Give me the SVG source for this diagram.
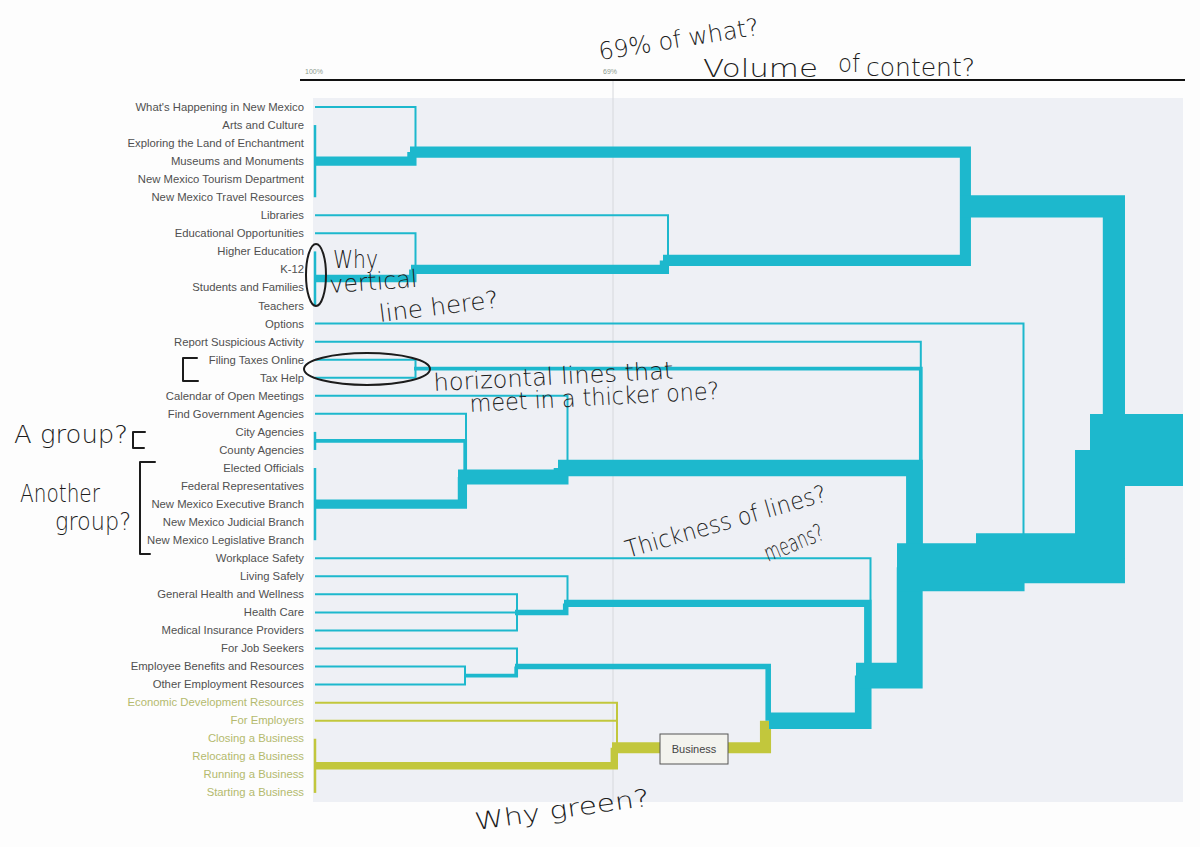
<svg xmlns="http://www.w3.org/2000/svg" width="1200" height="847" viewBox="0 0 1200 847">
<style>
.lbl{font-family:"Liberation Sans",Arial,sans-serif;font-size:11.3px;fill:#505050;text-anchor:end}
.glbl{font-family:"Liberation Sans",Arial,sans-serif;font-size:11.3px;fill:#b4ba6e;text-anchor:end}
.ax{font-family:"Liberation Sans",Arial,sans-serif;font-size:7px;fill:#8d9b8d}
.t{fill:none;stroke:#1db8cd;stroke-linejoin:miter}
.g{fill:none;stroke:#c2c73c;stroke-linejoin:miter}
.hw{font-family:"DejaVu Sans","Liberation Sans",sans-serif;font-size:24px;fill:#1c1c1c;font-weight:300}
.ink{fill:none;stroke:#1c1c1c;stroke-width:2;stroke-linecap:round;stroke-linejoin:round}
</style>
<rect x="0" y="0" width="1200" height="847" fill="#fdfdfd"/>
<g id="panel">
<rect x="313" y="98" width="870" height="704" fill="#eef0f5"/>
<line x1="613" y1="80" x2="613" y2="802" stroke="#d6d8dc" stroke-width="1"/>
<line x1="300" y1="80" x2="1185" y2="80" stroke="#111" stroke-width="2"/>
<text class="ax" x="305" y="74">100%</text>
<text class="ax" x="603" y="74">69%</text>
</g>
<g id="labels">
<text class="lbl" x="304" y="111">What's Happening in New Mexico</text>
<text class="lbl" x="304" y="129">Arts and Culture</text>
<text class="lbl" x="304" y="147">Exploring the Land of Enchantment</text>
<text class="lbl" x="304" y="165">Museums and Monuments</text>
<text class="lbl" x="304" y="183">New Mexico Tourism Department</text>
<text class="lbl" x="304" y="201">New Mexico Travel Resources</text>
<text class="lbl" x="304" y="219">Libraries</text>
<text class="lbl" x="304" y="237">Educational Opportunities</text>
<text class="lbl" x="304" y="255">Higher Education</text>
<text class="lbl" x="304" y="273">K-12</text>
<text class="lbl" x="304" y="291">Students and Families</text>
<text class="lbl" x="304" y="310">Teachers</text>
<text class="lbl" x="304" y="328">Options</text>
<text class="lbl" x="304" y="346">Report Suspicious Activity</text>
<text class="lbl" x="304" y="364">Filing Taxes Online</text>
<text class="lbl" x="304" y="382">Tax Help</text>
<text class="lbl" x="304" y="400">Calendar of Open Meetings</text>
<text class="lbl" x="304" y="418">Find Government Agencies</text>
<text class="lbl" x="304" y="436">City Agencies</text>
<text class="lbl" x="304" y="454">County Agencies</text>
<text class="lbl" x="304" y="472">Elected Officials</text>
<text class="lbl" x="304" y="490">Federal Representatives</text>
<text class="lbl" x="304" y="508">New Mexico Executive Branch</text>
<text class="lbl" x="304" y="526">New Mexico Judicial Branch</text>
<text class="lbl" x="304" y="544">New Mexico Legislative Branch</text>
<text class="lbl" x="304" y="562">Workplace Safety</text>
<text class="lbl" x="304" y="580">Living Safely</text>
<text class="lbl" x="304" y="598">General Health and Wellness</text>
<text class="lbl" x="304" y="616">Health Care</text>
<text class="lbl" x="304" y="634">Medical Insurance Providers</text>
<text class="lbl" x="304" y="652">For Job Seekers</text>
<text class="lbl" x="304" y="670">Employee Benefits and Resources</text>
<text class="lbl" x="304" y="688">Other Employment Resources</text>
<text class="glbl" x="304" y="706">Economic Development Resources</text>
<text class="glbl" x="304" y="724">For Employers</text>
<text class="glbl" x="304" y="742">Closing a Business</text>
<text class="glbl" x="304" y="760">Relocating a Business</text>
<text class="glbl" x="304" y="778">Running a Business</text>
<text class="glbl" x="304" y="796">Starting a Business</text>
</g>
<g id="connectors">
<path class="g" stroke-width="2.5" d="M315,738.75 V792.9"/>
<path class="g" stroke-width="2" d="M315,702.65 H617 V747.8"/>
<path class="g" stroke-width="2" d="M315,720.7 H617 V747.8"/>
<path class="g" stroke-width="7.4" d="M315,765.8 H614.3 V747.8"/>
<path class="g" stroke-width="11.1" d="M612,747.8 H765.5 V720.7"/>
<path class="t" stroke-width="2.5" d="M315,125.05 V197.25"/>
<path class="t" stroke-width="2.5" d="M315,251.4 V305.55"/>
<path class="t" stroke-width="2.5" d="M315,431.9 V449.95"/>
<path class="t" stroke-width="2.5" d="M315,468 V540.2"/>
<path class="t" stroke-width="2" d="M315,107 H415.5 V152.1"/>
<path class="t" stroke-width="2" d="M315,215.3 H668 V260.4"/>
<path class="t" stroke-width="2" d="M315,233.35 H415.5 V269.45"/>
<path class="t" stroke-width="2" d="M315,323.6 H1023.5 V558.25"/>
<path class="t" stroke-width="2" d="M315,341.65 H920.8 V567.3"/>
<path class="t" stroke-width="2" d="M315,359.7 H415.5 V368.7"/>
<path class="t" stroke-width="2" d="M315,377.75 H415.5 V368.7"/>
<path class="t" stroke-width="2" d="M315,395.8 H567.5 V468"/>
<path class="t" stroke-width="2" d="M315,413.85 H466 V477"/>
<path class="t" stroke-width="2" d="M315,558.25 H870.5 V675.6"/>
<path class="t" stroke-width="2" d="M315,576.3 H567.5 V603.4"/>
<path class="t" stroke-width="2" d="M315,594.35 H517 V612.4"/>
<path class="t" stroke-width="2" d="M315,612.4 H517 V612.4"/>
<path class="t" stroke-width="2" d="M315,630.45 H517 V612.4"/>
<path class="t" stroke-width="2" d="M315,648.5 H517 V666.55"/>
<path class="t" stroke-width="2" d="M315,666.55 H465 V675.6"/>
<path class="t" stroke-width="2" d="M315,684.6 H465 V675.6"/>
<path class="t" stroke-width="9.25" d="M315,161.15 H411.9 V152.1"/>
<path class="t" stroke-width="11.1" d="M410,152.1 H965.4 V206.3"/>
<path class="t" stroke-width="7.4" d="M315,278.5 H412.8 V269.45"/>
<path class="t" stroke-width="9.25" d="M411,269.45 H664.4 V260.4"/>
<path class="t" stroke-width="11.1" d="M663,260.4 H965.4 V206.3"/>
<path class="t" stroke-width="22.2" d="M960,206.3 H1113.9 V449.95"/>
<path class="t" stroke-width="3.7" d="M414,368.7 H920.8 V567.3"/>
<path class="t" stroke-width="3.7" d="M315,440.9 H465.2 V477"/>
<path class="t" stroke-width="9.25" d="M315,504.1 H462.4 V477"/>
<path class="t" stroke-width="14.8" d="M458,477 H561.1 V468"/>
<path class="t" stroke-width="16.65" d="M558,468 H914.4 V567.3"/>
<path class="t" stroke-width="5.55" d="M515,612.4 H565.7 V603.4"/>
<path class="t" stroke-width="7.4" d="M564,603.4 H867.8 V675.6"/>
<path class="t" stroke-width="3.7" d="M464,675.6 H516.2 V666.55"/>
<path class="t" stroke-width="5.55" d="M515,666.55 H768.2 V720.7"/>
<path class="t" stroke-width="16.65" d="M769,720.7 H863.2 V675.6"/>
<path class="t" stroke-width="25.9" d="M856,675.6 H909.7 V567.3"/>
<path class="t" stroke-width="48.1" d="M897,567.3 H1000.5 V558.25"/>
<path class="t" stroke-width="49.95" d="M976,558.25 H1100 V449.95"/>
<path class="t" stroke-width="72.15" d="M1090,449.95 H1183"/>
</g>
<g id="business">
<rect x="660" y="734" width="68" height="30" fill="#f3f3ee" stroke="#555" stroke-width="1"/>
<text x="694" y="753" font-family="Liberation Sans, Arial, sans-serif" font-size="11" fill="#444" text-anchor="middle">Business</text>
</g>
<g id="annotations">
<text class="hw" x="600" y="60" textLength="162" lengthAdjust="spacingAndGlyphs" transform="rotate(-9 600 60)">69% of what?</text>
<text class="hw" x="703" y="77" textLength="115" lengthAdjust="spacingAndGlyphs">Volume</text>
<text class="hw" x="838" y="72" textLength="22" lengthAdjust="spacingAndGlyphs">of</text>
<text class="hw" x="866" y="76" textLength="109" lengthAdjust="spacingAndGlyphs">content?</text>
<ellipse class="ink" cx="316" cy="275" rx="10" ry="31"/>
<text class="hw" x="333" y="268" textLength="45" lengthAdjust="spacingAndGlyphs">Why</text>
<text class="hw" x="330" y="293" textLength="88" lengthAdjust="spacingAndGlyphs" transform="rotate(-4 330 293)">vertical</text>
<text class="hw" x="380" y="322" textLength="120" lengthAdjust="spacingAndGlyphs" transform="rotate(-7 380 322)">line here?</text>
<ellipse class="ink" cx="367" cy="369" rx="63" ry="16"/>
<path class="ink" d="M197,358 H183 V381 H198"/>
<text class="hw" x="434" y="391" textLength="240" lengthAdjust="spacingAndGlyphs" transform="rotate(-3 434 391)">horizontal lines that</text>
<text class="hw" x="470" y="412" textLength="250" lengthAdjust="spacingAndGlyphs" transform="rotate(-3 470 412)">meet in a thicker one?</text>
<text class="hw" x="14" y="443" textLength="114" lengthAdjust="spacingAndGlyphs">A group?</text>
<path class="ink" d="M145,432 H133 V448 H144"/>
<text class="hw" x="20" y="502" textLength="80" lengthAdjust="spacingAndGlyphs">Another</text>
<text class="hw" x="55" y="530" textLength="76" lengthAdjust="spacingAndGlyphs">group?</text>
<path class="ink" d="M155,462 H140 V554 H150"/>
<text class="hw" x="628" y="558" textLength="208" lengthAdjust="spacingAndGlyphs" transform="rotate(-16 628 558)">Thickness of lines?</text>
<text class="hw" x="768" y="562" font-size="18" textLength="62" lengthAdjust="spacingAndGlyphs" transform="rotate(-22 768 562)">means?</text>
<text class="hw" x="476" y="830" textLength="176" lengthAdjust="spacingAndGlyphs" transform="rotate(-8 476 830)">Why green?</text>
</g>
</svg>
